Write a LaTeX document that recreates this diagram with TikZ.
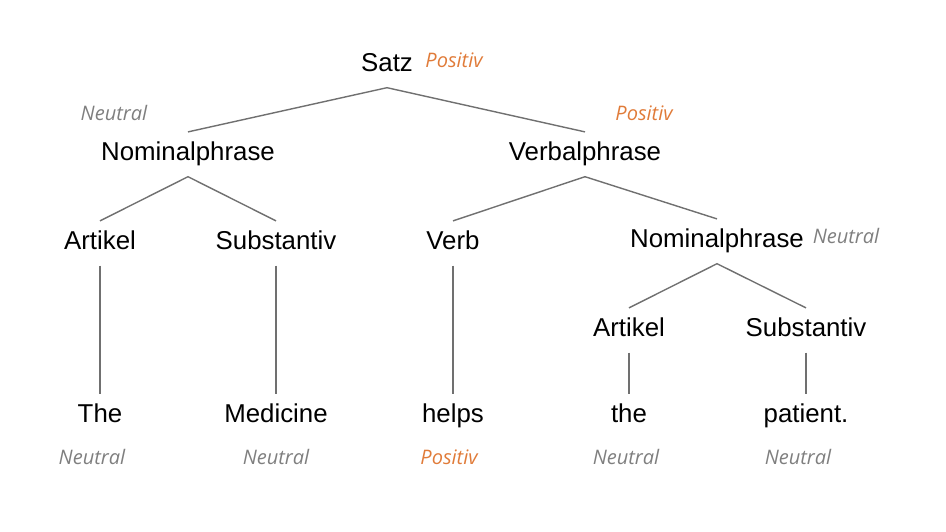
\documentclass[tikz,border=0pt]{standalone}
\usepackage{fontspec}
\setmainfont{Liberation Sans}
\newfontfamily\lblfont{Open Sans}
\usepackage{tikz}
\definecolor{posc}{HTML}{E07B39}
\definecolor{neuc}{HTML}{7F7F7F}
\definecolor{edgec}{HTML}{707070}

\begin{document}
\begin{tikzpicture}[x=0.02cm, y=-0.02cm,
    word/.style={font=\fontsize{14.7}{16}\selectfont, anchor=base, text height=0.9em, text depth=0.25em, inner ysep=6.8pt, inner xsep=0pt},
    lbl/.style={font=\lblfont\itshape\fontsize{11.4}{13}\selectfont, anchor=base, inner sep=0pt},
    poslbl/.style={lbl, text=posc},
    neulbl/.style={lbl, text=neuc},
    edge/.style={draw=edgec, line width=0.8pt}]
  \useasboundingbox (0,0) rectangle (946,531);
  % top levels
  \node[word] (satz) at (387,71) {Satz};
  \node[poslbl] (satzl) at (454,67) {Positiv};
  \node[word] (np) at (188,160) {Nominalphrase};
  \node[neulbl] (npl) at (114,120) {Neutral};
  \node[word] (vp) at (585,160) {Verbalphrase};
  \node[poslbl] (vpl) at (644,120) {Positiv};
  % third level
  \node[word] (art) at (100,249) {Artikel};
  \node[word] (sub) at (276,249) {Substantiv};
  \node[word] (verb) at (453,249) {Verb};
  \node[word] (np2) at (717,247) {Nominalphrase};
  \node[neulbl] (np2l) at (846,243) {Neutral};
  \node[word] (art2) at (629,336) {Artikel};
  \node[word] (sub2) at (806,336) {Substantiv};
  % words
  \node[word] (the) at (100,422) {The};
  \node[word] (med) at (276,422) {Medicine};
  \node[word] (helps) at (453,422) {helps};
  \node[word] (the2) at (629,422) {the};
  \node[word] (pat) at (806,422) {patient.};
  \node[neulbl] (thel) at (92,464) {Neutral};
  \node[neulbl] (medl) at (276,464) {Neutral};
  \node[poslbl] (helpsl) at (449,464) {Positiv};
  \node[neulbl] (the2l) at (626,464) {Neutral};
  \node[neulbl] (patl) at (798,464) {Neutral};
  % edges
  \draw[edge] (np.north) -- (satz.south) -- (vp.north);
  \draw[edge] (art.north) -- (np.south) -- (sub.north);
  \draw[edge] (verb.north) -- (vp.south) -- (np2.north);
  \draw[edge] (art2.north) -- (np2.south) -- (sub2.north);
  \draw[edge] (art) -- (the);
  \draw[edge] (sub) -- (med);
  \draw[edge] (verb) -- (helps);
  \draw[edge] (art2) -- (the2);
  \draw[edge] (sub2) -- (pat);
\end{tikzpicture}
\end{document}
